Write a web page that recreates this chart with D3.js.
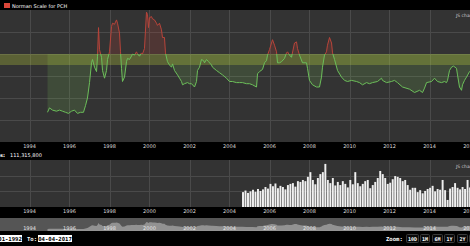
<!DOCTYPE html>
<html>
<head>
<meta charset="utf-8">
<script src="https://cdn.jsdelivr.net/npm/d3@7"></script>
<style>
body{margin:0;background:#000;overflow:hidden}
svg{display:block;font-family:"DejaVu Sans",sans-serif}
</style>
</head>
<body>
<svg id="chart" width="470" height="246"></svg>
<script>
// PCH series, [decimal year, value]
var pchSeries = [[1994.90,2.7],[1995.00,3.1],[1995.15,2.9],[1995.35,2.8],[1995.50,2.9],[1995.65,2.8],[1995.80,2.7],[1995.95,2.6],[1996.10,2.8],[1996.25,2.9],[1996.40,2.6],[1996.55,2.7],[1996.70,2.7],[1996.80,3.3],[1996.90,4.0],[1997.00,5.4],[1997.10,7.2],[1997.15,7.5],[1997.25,6.8],[1997.35,6.4],[1997.40,7.8],[1997.45,10.4],[1997.50,8.4],[1997.60,7.7],[1997.65,6.5],[1997.75,5.8],[1997.85,6.5],[1997.90,7.5],[1998.00,8.2],[1998.10,10.5],[1998.15,10.8],[1998.25,10.7],[1998.30,10.9],[1998.35,11.1],[1998.40,10.8],[1998.50,9.9],[1998.55,8.2],[1998.60,6.7],[1998.65,5.5],[1998.75,5.9],[1998.85,7.3],[1998.90,7.6],[1999.00,7.5],[1999.10,7.8],[1999.15,8.0],[1999.25,7.9],[1999.35,8.2],[1999.40,8.0],[1999.50,7.8],[1999.60,8.1],[1999.65,8.0],[1999.75,8.5],[1999.85,11.8],[1999.90,11.6],[1999.95,10.4],[2000.00,11.3],[2000.10,11.4],[2000.15,11.2],[2000.25,11.1],[2000.35,10.8],[2000.40,10.6],[2000.50,10.8],[2000.60,10.2],[2000.65,9.5],[2000.75,9.5],[2000.80,8.1],[2000.90,7.3],[2001.00,7.0],[2001.10,6.8],[2001.15,7.1],[2001.25,6.5],[2001.40,6.1],[2001.50,5.8],[2001.60,5.5],[2001.65,5.2],[2001.75,5.3],[2001.90,5.4],[2002.00,5.3],[2002.10,5.3],[2002.25,5.0],[2002.35,5.5],[2002.40,6.5],[2002.50,6.8],[2002.60,7.5],[2002.70,7.4],[2002.75,7.2],[2002.85,7.5],[2002.95,7.3],[2003.10,7.0],[2003.15,6.8],[2003.35,6.5],[2003.50,6.3],[2003.65,6.1],[2003.85,5.8],[2004.00,5.5],[2004.15,5.5],[2004.35,5.4],[2004.50,5.4],[2004.65,5.4],[2004.85,5.3],[2005.00,5.3],[2005.15,5.2],[2005.35,5.0],[2005.40,6.2],[2005.50,6.4],[2005.65,6.6],[2005.75,7.2],[2005.85,7.4],[2005.90,7.9],[2006.00,8.4],[2006.10,9.0],[2006.15,9.3],[2006.25,8.8],[2006.35,8.2],[2006.40,7.2],[2006.50,7.2],[2006.60,7.3],[2006.75,7.6],[2006.85,8.1],[2006.90,8.2],[2007.00,7.9],[2007.10,7.7],[2007.25,9.0],[2007.35,9.1],[2007.40,8.5],[2007.50,7.9],[2007.65,7.2],[2007.85,7.2],[2007.90,6.7],[2008.00,5.6],[2008.15,5.2],[2008.35,5.0],[2008.50,5.0],[2008.60,5.9],[2008.65,6.8],[2008.75,7.9],[2008.85,8.2],[2008.90,8.8],[2009.00,9.5],[2009.10,9.0],[2009.15,8.1],[2009.25,7.5],[2009.40,6.5],[2009.60,5.9],[2009.75,5.6],[2009.90,5.5],[2010.10,5.6],[2010.35,5.5],[2010.50,5.4],[2010.65,5.2],[2010.85,5.4],[2011.00,5.3],[2011.15,5.4],[2011.40,5.5],[2011.60,5.8],[2011.65,5.6],[2011.85,5.4],[2012.10,5.5],[2012.25,5.6],[2012.40,5.4],[2012.65,5.0],[2013.00,4.8],[2013.25,4.5],[2013.50,4.7],[2013.65,4.5],[2013.75,4.9],[2013.85,5.4],[2014.10,5.5],[2014.25,5.8],[2014.40,5.5],[2014.60,5.4],[2014.75,5.5],[2014.85,5.4],[2014.90,5.6],[2015.00,6.5],[2015.10,6.8],[2015.20,6.9],[2015.35,6.7],[2015.40,6.1],[2015.50,5.0],[2015.60,4.7],[2015.65,5.2],[2015.75,5.6],[2015.85,5.9],[2016.00,6.4],[2016.20,6.2],[2016.50,6.0],[2016.80,5.8],[2017.10,5.9],[2017.25,5.7]];

// volume bars (millions), evenly spaced between volumeStart and volumeEnd
var volumeStart = 2004.6, volumeEnd = 2017.1;
var volumeValues = [38,42,36,40,44,39,46,41,45,51,47,59,53,60,48,54,51,45,56,59,61,52,66,64,69,66,77,89,69,58,74,84,89,110,69,61,74,55,64,56,66,59,50,69,58,89,61,53,59,66,69,48,56,64,74,92,84,74,59,62,71,79,77,74,66,69,56,44,49,49,38,43,35,41,46,49,54,40,46,44,69,43,18,47,51,61,49,45,51,46,69,50,48,55,44,52,47,58,50,45];

var tickYears = [1994,1996,1998,2000,2002,2004,2006,2008,2010,2012,2014,2016];
var valueTicks = [2,4,6,8,10];
var volumeTicks = [40,80];
var threshold = 8;
var bandRange = [7,8];
var legendLabel = "Norman Scale for PCH";
var volumeReadout = ["Volumes:", "111,315,800"];
var fromDate = "01-01-1992", toDateText = "04-04-2017";
var zoomButtons = ["10D","1M","6M","1Y","2Y","5Y"];

function toDate(dy){
    var y = Math.floor(dy)
    return new Date(Date.UTC(y,0,1) + (dy-y)*365.25*864e5)
}

var svg = d3.select("#chart");
var W = 470;
var x = d3.scaleUtc().domain([toDate(1994), toDate(2016)]).range([29.5, 469.5]);
var yMain = d3.scaleLinear().domain([0,12]).range([142,10]);
var yVol = d3.scaleLinear().domain([0,120]).range([207,160]);
var yNav = d3.scaleLinear().domain([0,17]).range([231,218]);

var pts = pchSeries.map(function(d){return {date: toDate(d[0]), value: d[1]}});

svg.append("rect").attr("width",W).attr("height",246).attr("fill","#000");

// panels
svg.append("rect").attr("x",0).attr("y",10).attr("width",W).attr("height",132).attr("fill","#333");
svg.append("rect").attr("x",0).attr("y",160).attr("width",W).attr("height",47).attr("fill","#333");
svg.append("rect").attr("x",0).attr("y",218).attr("width",W).attr("height",13).attr("fill","#555");

var defs = svg.append("defs");
defs.append("clipPath").attr("id","cAbove").append("rect")
    .attr("x",0).attr("y",10).attr("width",W).attr("height",yMain(threshold)-10);
defs.append("clipPath").attr("id","cBelow").append("rect")
    .attr("x",0).attr("y",yMain(threshold)).attr("width",W).attr("height",142-yMain(threshold));

// grid
[[10,142],[160,207]].forEach(function(p){
    svg.append("g").selectAll("line").data(tickYears).enter().append("line")
        .attr("x1",function(d){return Math.round(x(toDate(d)))+0.5})
        .attr("x2",function(d){return Math.round(x(toDate(d)))+0.5})
        .attr("y1",p[0]).attr("y2",p[1])
        .attr("stroke","#4a4a4a").attr("stroke-width",1)
})
svg.append("g").selectAll("line").data(valueTicks).enter().append("line")
    .attr("x1",0).attr("x2",W)
    .attr("y1",function(d){return Math.round(yMain(d))+0.5})
    .attr("y2",function(d){return Math.round(yMain(d))+0.5})
    .attr("stroke","#4a4a4a")
svg.append("g").selectAll("line").data(volumeTicks).enter().append("line")
    .attr("x1",0).attr("x2",W)
    .attr("y1",function(d){return Math.round(yVol(d))+0.5})
    .attr("y2",function(d){return Math.round(yVol(d))+0.5})
    .attr("stroke","#4a4a4a")

// areas to threshold
var area = d3.area()
    .x(function(d){return x(d.date)})
    .y0(yMain(threshold))
    .y1(function(d){return yMain(d.value)});
svg.append("path").datum(pts).attr("d",area).attr("clip-path","url(#cAbove)")
    .attr("fill","#b5443a").attr("fill-opacity",0.22)
svg.append("path").datum(pts).attr("d",area).attr("clip-path","url(#cBelow)")
    .attr("fill","#7cc35a").attr("fill-opacity",0.17)

// guide band
svg.append("rect").attr("x",0).attr("width",W)
    .attr("y",yMain(bandRange[1])).attr("height",yMain(bandRange[0])-yMain(bandRange[1]))
    .attr("fill","rgb(185,205,60)").attr("fill-opacity",0.3)

var line = d3.line().x(function(d){return x(d.date)}).y(function(d){return yMain(d.value)});
svg.append("path").datum(pts).attr("d",line).attr("clip-path","url(#cAbove)")
    .attr("fill","none").attr("stroke","#b8443a").attr("stroke-width",1)
svg.append("path").datum(pts).attr("d",line).attr("clip-path","url(#cBelow)")
    .attr("fill","none").attr("stroke","#6cbf5a").attr("stroke-width",1)

// volume bars
var band = d3.scaleBand().domain(d3.range(volumeValues.length))
    .range([x(toDate(volumeStart)), x(toDate(volumeEnd))]).padding(0.22);
svg.append("g").selectAll("rect").data(volumeValues).enter().append("rect")
    .attr("x",function(d,i){return band(i)})
    .attr("width",band.bandwidth())
    .attr("y",function(d){return yVol(d)})
    .attr("height",function(d){return yVol(0)-yVol(d)})
    .attr("fill","#f0f0f0")

// navigator
var navArea = d3.area().x(function(d){return x(d.date)}).y0(231).y1(function(d){return yNav(d.value)});
svg.append("path").datum(pts).attr("d",navArea).attr("fill","#929292")

// axis labels
function yearLabels(yb, col){
    svg.append("g").selectAll("text").data(tickYears).enter().append("text")
        .attr("x",function(d){return x(toDate(d))})
        .attr("y",yb)
        .attr("text-anchor","middle")
        .attr("font-size",5).attr("fill",col)
        .text(function(d){return d})
}
yearLabels(148,"#ddd")
yearLabels(212.5,"#ddd")
yearLabels(229.5,"#e8e8e8")

// legend
svg.append("rect").attr("x",4).attr("y",3).attr("width",6).attr("height",5).attr("fill","#d9473a")
svg.append("text").attr("x",12).attr("y",8).attr("font-size",5).attr("fill","#fff").text(legendLabel)

svg.append("text").attr("x",5).attr("y",157).attr("text-anchor","end")
    .attr("font-size",5).attr("font-weight","bold").attr("fill","#fff").text(volumeReadout[0])
svg.append("text").attr("x",10).attr("y",157)
    .attr("font-size",5).attr("fill","#fff").text(volumeReadout[1])

// watermarks
svg.append("text").attr("x",456).attr("y",16.5).attr("font-size",4.5).attr("fill","#ccc").text("JS chart by amCharts")
svg.append("text").attr("x",456).attr("y",167.5).attr("font-size",4.5).attr("fill","#ccc").text("JS chart by amCharts")

// date inputs
var mono = "'DejaVu Sans Mono',monospace";
svg.append("rect").attr("x",-12).attr("y",235).attr("width",34).attr("height",7).attr("fill","#fff")
svg.append("text").attr("x",5).attr("y",240.8).attr("text-anchor","middle").attr("font-family",mono)
    .attr("font-size",5.6).attr("font-weight","bold").attr("fill","#000").text(fromDate)
svg.append("text").attr("x",27).attr("y",240.8).attr("font-family",mono)
    .attr("font-size",5.6).attr("font-weight","bold").attr("fill","#fff").text("To:")
svg.append("rect").attr("x",38).attr("y",235).attr("width",34).attr("height",7).attr("fill","#fff")
svg.append("text").attr("x",55).attr("y",240.8).attr("text-anchor","middle").attr("font-family",mono)
    .attr("font-size",5.6).attr("font-weight","bold").attr("fill","#000").text(toDateText)

// zoom buttons
svg.append("text").attr("x",386).attr("y",240.8).attr("font-family",mono)
    .attr("font-size",5.6).attr("font-weight","bold").attr("fill","#fff").text("Zoom:")
var bx = [406,420,432,444,457,469];
var bw = [12,9,10,10,10,10];
var zb = svg.append("g").selectAll("g").data(zoomButtons).enter().append("g");
zb.append("rect")
    .attr("x",function(d,i){return bx[i]+0.5}).attr("y",234.5)
    .attr("width",function(d,i){return bw[i]}).attr("height",8)
    .attr("rx",1).attr("fill","#0a0a0a").attr("stroke","#3a3a3a")
zb.append("text")
    .attr("x",function(d,i){return bx[i]+0.5+bw[i]/2}).attr("y",240.6)
    .attr("text-anchor","middle").attr("font-family",mono)
    .attr("font-size",5).attr("font-weight","bold").attr("fill","#fff")
    .text(function(d){return d})
</script>
</body>
</html>
